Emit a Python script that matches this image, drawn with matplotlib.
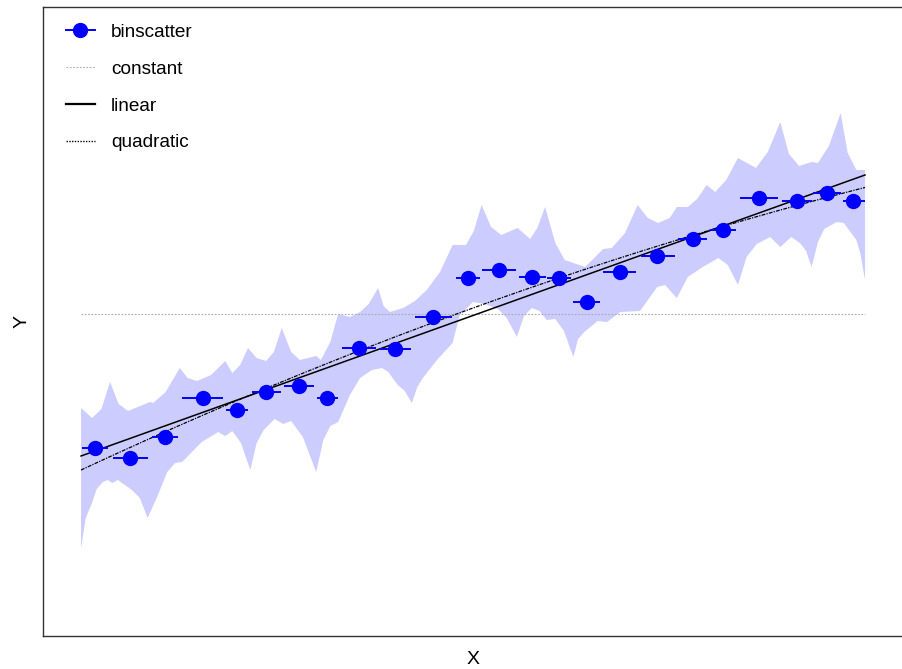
import numpy as np
import matplotlib
matplotlib.use("Agg")
import matplotlib.pyplot as plt
from matplotlib.lines import Line2D

plt.rcParams['font.family'] = ['Liberation Sans', 'DejaVu Sans']

# ---- binscatter points ----
bin_x = [0.018, 0.063, 0.107, 0.155, 0.199, 0.236, 0.278, 0.314, 0.355, 0.401, 0.449, 0.494,
         0.533, 0.575, 0.610, 0.645, 0.688, 0.735, 0.780, 0.819, 0.865, 0.913, 0.951, 0.985]
bin_y = [-1.34, -1.445, -1.23, -0.84, -0.96, -0.78, -0.72, -0.845, -0.345, -0.35, -0.03, 0.36,
         0.44, 0.37, 0.36, 0.115, 0.42, 0.58, 0.75, 0.84, 1.16, 1.13, 1.21, 1.13]
bin_lo = [0.001, 0.041, 0.090, 0.129, 0.185, 0.218, 0.259, 0.301, 0.333, 0.381, 0.426, 0.478,
          0.512, 0.559, 0.594, 0.628, 0.666, 0.714, 0.761, 0.802, 0.841, 0.894, 0.934, 0.972]
bin_hi = [0.035, 0.085, 0.124, 0.181, 0.213, 0.255, 0.297, 0.328, 0.376, 0.421, 0.473, 0.509,
          0.555, 0.593, 0.625, 0.662, 0.708, 0.758, 0.799, 0.836, 0.889, 0.932, 0.969, 1.000]

# ---- confidence band edges ----
band_up_x = [0, 0.014, 0.026, 0.037, 0.048, 0.060, 0.088, 0.092, 0.108, 0.126, 0.136, 0.148,
             0.166, 0.184, 0.193, 0.203, 0.213, 0.224, 0.236, 0.246, 0.256, 0.268, 0.279, 0.300,
             0.306, 0.318, 0.328, 0.343, 0.356, 0.367, 0.379, 0.386, 0.394, 0.411, 0.426, 0.441,
             0.458, 0.474, 0.491, 0.501, 0.511, 0.523, 0.536, 0.557, 0.573, 0.582, 0.592, 0.605,
             0.617, 0.643, 0.666, 0.677, 0.694, 0.710, 0.723, 0.736, 0.751, 0.760, 0.774, 0.786,
             0.798, 0.809, 0.823, 0.838, 0.861, 0.876, 0.892, 0.903, 0.916, 0.932, 0.940, 0.954,
             0.969, 0.978, 0.989, 1.000]
band_up_y = [-0.94, -1.04, -0.95, -0.68, -0.90, -0.97, -0.88, -0.89, -0.78, -0.54, -0.64, -0.67,
             -0.61, -0.47, -0.59, -0.51, -0.34, -0.44, -0.47, -0.38, -0.14, -0.38, -0.46, -0.42,
             -0.46, -0.28, 0.00, -0.03, 0.02, 0.10, 0.26, 0.08, 0.02, 0.06, 0.13, 0.24,
             0.42, 0.69, 0.69, 0.83, 1.09, 0.87, 0.79, 0.86, 0.75, 0.86, 1.07, 0.71,
             0.54, 0.47, 0.65, 0.66, 0.81, 1.09, 0.96, 0.91, 0.96, 1.07, 1.07, 1.15,
             1.29, 1.22, 1.34, 1.56, 1.46, 1.62, 1.92, 1.60, 1.48, 1.52, 1.51, 1.68,
             2.01, 1.61, 1.44, 1.44]
band_lo_x = [0, 0.006, 0.014, 0.020, 0.028, 0.034, 0.040, 0.047, 0.065, 0.075, 0.085, 0.097,
             0.110, 0.120, 0.129, 0.154, 0.175, 0.184, 0.193, 0.204, 0.216, 0.224, 0.233, 0.247,
             0.258, 0.268, 0.283, 0.300, 0.309, 0.318, 0.328, 0.343, 0.356, 0.371, 0.384, 0.392,
             0.404, 0.413, 0.422, 0.429, 0.436, 0.454, 0.474, 0.483, 0.500, 0.515, 0.532, 0.543,
             0.556, 0.565, 0.575, 0.585, 0.594, 0.605, 0.616, 0.628, 0.634, 0.642, 0.659, 0.671,
             0.688, 0.713, 0.735, 0.745, 0.760, 0.774, 0.793, 0.813, 0.825, 0.838, 0.849, 0.862,
             0.879, 0.892, 0.906, 0.917, 0.925, 0.932, 0.940, 0.948, 0.964, 0.973, 0.989, 0.994,
             1.000]
band_lo_y = [-2.34, -2.04, -1.89, -1.75, -1.68, -1.66, -1.69, -1.66, -1.76, -1.84, -2.04, -1.83,
             -1.58, -1.49, -1.48, -1.28, -1.18, -1.22, -1.17, -1.29, -1.56, -1.29, -1.16, -1.05,
             -1.10, -1.07, -1.23, -1.58, -1.26, -1.12, -1.08, -0.81, -0.64, -0.56, -0.54, -0.58,
             -0.71, -0.77, -0.89, -0.73, -0.64, -0.46, -0.29, -0.01, 0.12, 0.10, 0.05, -0.04,
             -0.23, -0.02, 0.06, 0.03, -0.06, -0.05, -0.17, -0.43, -0.25, -0.18, -0.07, -0.08,
             0.02, 0.03, 0.27, 0.29, 0.16, 0.37, 0.47, 0.56, 0.49, 0.29, 0.57, 0.70,
             0.77, 0.67, 0.77, 0.71, 0.63, 0.47, 0.72, 0.85, 0.92, 0.91, 0.74, 0.61,
             0.34]

# ---- fitted polynomials (coefficients, lowest order first) ----
x_range = [0.0, 1.0]
const_coef = [0.0]
linear_coef = [-1.42, 2.81]
quad_coef = [-1.56, 3.655, -0.83]

fig = plt.figure(figsize=(9.02, 6.69), dpi=100)
ax = fig.add_axes([43/902, 33/669, 860/902, 629/669])

band_x = list(band_up_x) + list(band_lo_x[::-1])
band_y = list(band_up_y) + list(band_lo_y[::-1])
ax.fill(band_x, band_y, color=(0.8, 0.8, 1.0), lw=0, zorder=1)

xs = np.linspace(x_range[0], x_range[1], 200)
def poly(c, x):
    return sum(ci * x**i for i, ci in enumerate(c)) + 0 * x

ax.plot(xs, poly(const_coef, xs), color='#aaaaaa', lw=0.8, ls=(0, (1.5, 1.5)), zorder=2)
ax.plot(xs, poly(linear_coef, xs), color='black', lw=1.1, ls='-', zorder=3)
ax.plot(xs, poly(quad_coef, xs), color='black', lw=0.9, ls=(0, (3, 1, 1, 1)), zorder=3)

ax.hlines(bin_y, bin_lo, bin_hi, color='blue', lw=1.4, zorder=4)
ax.plot(bin_x, bin_y, 'o', color='blue', ms=10, mec='blue', zorder=5)

ax.set_xlim(-0.0485, 1.0485)
ax.set_ylim(-3.22, 3.07)
ax.set_xticks([])
ax.set_yticks([])
for s in ['left', 'bottom', 'top']:
    ax.spines[s].set_color('#333333')
    ax.spines[s].set_linewidth(1.0)
ax.spines['right'].set_visible(False)

ax.set_xlabel('X', fontsize=14, labelpad=11)
ax.set_ylabel('Y', fontsize=14, labelpad=9)

handles = [
    Line2D([], [], color='blue', lw=1.4, marker='o', ms=10),
    Line2D([], [], color='#aaaaaa', lw=0.8, ls=(0, (1.5, 1.5))),
    Line2D([], [], color='black', lw=1.6),
    Line2D([], [], color='black', lw=1.0, ls=(0, (1, 1))),
]
labels = ['binscatter', 'constant', 'linear', 'quadratic']
ax.legend(handles, labels, loc='upper left', bbox_to_anchor=(0.027, 0.974), frameon=False,
          fontsize=13.7, handlelength=1.5, handletextpad=0.85, labelspacing=1.03,
          borderpad=0, borderaxespad=0)

fig.savefig('out.png', dpi=100)
